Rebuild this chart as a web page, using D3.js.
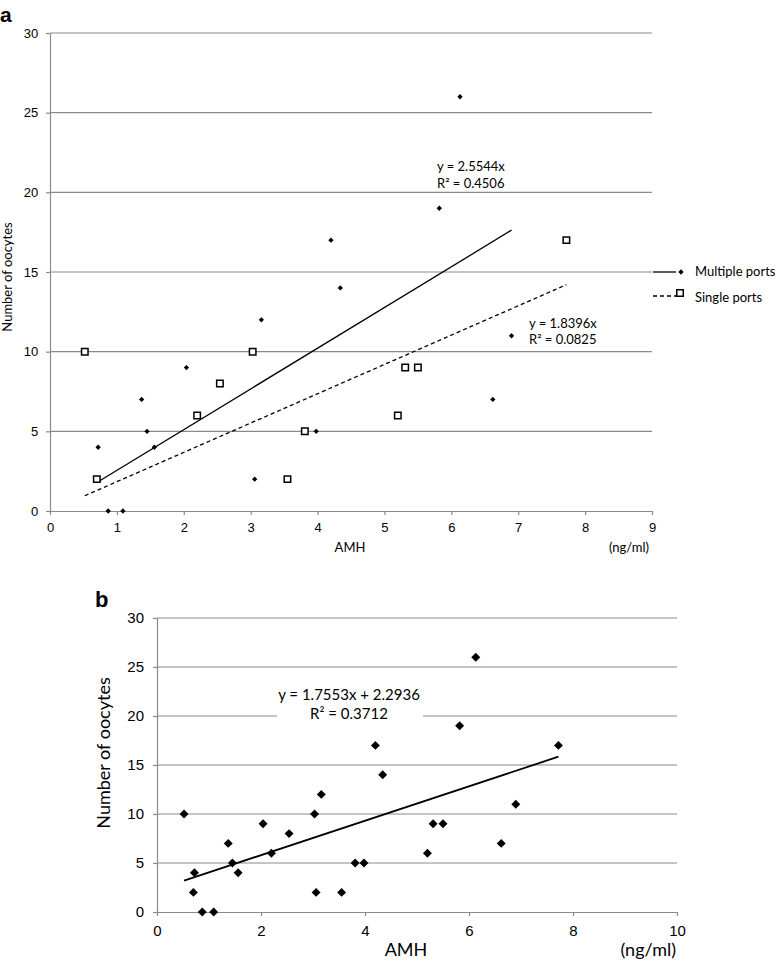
<!DOCTYPE html>
<html>
<head>
<meta charset="utf-8">
<script src="https://cdn.jsdelivr.net/npm/d3@7"></script>
<style>
body { margin: 0; background: #fff; }
svg { display: block; font-family: Lato, "Open Sans", sans-serif; }
.grid line { stroke: #8a8a8a; stroke-width: 1.2; }
.axis path, .axis line { stroke: #8a8a8a; stroke-width: 1.2; }
.axis text { fill: #000; }
</style>
</head>
<body>
<svg id="chart" width="777" height="960"></svg>
<script>
// data
const multiAMH      = [0.72, 0.87, 1.09, 1.37, 1.45, 1.56, 2.04, 3.06, 3.16, 3.98, 4.20, 4.34, 5.82, 6.13, 6.62, 6.90]
const multiOocytes  = [4, 0, 0, 7, 5, 4, 9, 2, 12, 5, 17, 14, 19, 26, 7, 11]
const singleAMH     = [0.52, 0.70, 2.20, 2.54, 3.03, 3.55, 3.81, 5.20, 5.31, 5.50, 7.72]
const singleOocytes = [10, 2, 6, 8, 10, 2, 5, 6, 9, 9, 17]

const seriesNames = ["Multiple ports", "Single ports"]
// trend lines: [slope, intercept]
const multiFit  = [2.5544, 0]
const singleFit = [1.8396, 0]
const allFit    = [1.7553, 2.2936]
const multiFitText  = ["y = 2.5544x", "R² = 0.4506"]
const singleFitText = ["y = 1.8396x", "R² = 0.0825"]
const allFitText    = ["y = 1.7553x + 2.2936", "R² = 0.3712"]

const yTicks  = [0, 5, 10, 15, 20, 25, 30]
const xTicksA = [0, 1, 2, 3, 4, 5, 6, 7, 8, 9]
const xTicksB = [0, 2, 4, 6, 8, 10]

let svg = d3.select("#chart")

function fitLine(fit, xs) {
    let ext = d3.extent(xs)
    return ext.map(x => [x, fit[0] * x + fit[1]])
}

function drawPanel(g, xs, ys, xTicks, fontSize, tickLen) {
    let grid = g.append("g").attr("class", "grid")
    grid.selectAll("line").data(yTicks.filter(d => d > 0)).enter().append("line")
        .attr("x1", xs.range()[0]).attr("x2", xs.range()[1])
        .attr("y1", d => ys(d)).attr("y2", d => ys(d))

    g.append("g").attr("class", "axis")
        .attr("transform", `translate(0,${ys(0)})`)
        .call(d3.axisBottom(xs).tickValues(xTicks).tickSize(tickLen).tickPadding(fontSize * 0.6).tickSizeOuter(0))
        .selectAll("text").style("font-size", fontSize + "px")
    g.append("g").attr("class", "axis")
        .attr("transform", `translate(${xs.range()[0]},0)`)
        .call(d3.axisLeft(ys).tickValues(yTicks).tickSize(tickLen).tickPadding(fontSize * 0.6).tickSizeOuter(0))
        .selectAll("text").style("font-size", fontSize + "px")
}

// ---------- panel a ----------
let xA = d3.scaleLinear().domain([0, 9]).range([50, 652])
let yA = d3.scaleLinear().domain([0, 30]).range([511, 33])
let gA = svg.append("g")
drawPanel(gA, xA, yA, xTicksA, 13, 4)

let line = d3.line()
gA.append("path")
    .attr("d", line(fitLine(multiFit, multiAMH).map(p => [xA(p[0]), yA(p[1])])))
    .attr("stroke", "#000").attr("stroke-width", 1.3).attr("fill", "none")
gA.append("path")
    .attr("d", line(fitLine(singleFit, singleAMH).map(p => [xA(p[0]), yA(p[1])])))
    .attr("stroke", "#000").attr("stroke-width", 1.3).attr("stroke-dasharray", "4,3").attr("fill", "none")

let smallDiamond = d3.symbol().type(d3.symbolSquare).size(14)
gA.selectAll(".multi").data(multiAMH).enter().append("path")
    .attr("class", "multi")
    .attr("d", smallDiamond)
    .attr("transform", (d, i) => `translate(${xA(d)},${yA(multiOocytes[i])}) rotate(45)`)
    .attr("fill", "#000")
let openSquare = d3.symbol().type(d3.symbolSquare).size(42)
gA.selectAll(".single").data(singleAMH).enter().append("path")
    .attr("class", "single")
    .attr("d", openSquare)
    .attr("transform", (d, i) => `translate(${xA(d)},${yA(singleOocytes[i])})`)
    .attr("fill", "#fff").attr("stroke", "#000").attr("stroke-width", 1.5)

// trend labels
gA.append("text").attr("x", 437).attr("y", 171).style("font-size", "13px").text(multiFitText[0])
gA.append("text").attr("x", 437).attr("y", 188).style("font-size", "13px").text(multiFitText[1])
gA.append("text").attr("x", 529).attr("y", 328).style("font-size", "13px").text(singleFitText[0])
gA.append("text").attr("x", 529).attr("y", 344).style("font-size", "13px").text(singleFitText[1])

// axis titles
gA.append("text").attr("x", 350).attr("y", 552).attr("text-anchor", "middle").style("font-size", "13px").text("AMH")
gA.append("text").attr("x", 649).attr("y", 552).attr("text-anchor", "end").style("font-size", "13px").text("(ng/ml)")
gA.append("text").attr("transform", "translate(12,277) rotate(-90)").attr("text-anchor", "middle")
    .style("font-size", "13px").text("Number of oocytes")
gA.append("text").attr("x", 0).attr("y", 22).style("font-family", "'Liberation Sans', Arial, sans-serif")
    .style("font-weight", "bold").style("font-size", "21px").text("a")

// legend
let lgA = gA.append("g")
seriesNames.forEach(function (name, i) {
    let ly = 272 + i * 24
    lgA.append("line").attr("x1", 653).attr("x2", 676).attr("y1", ly).attr("y2", ly)
        .attr("stroke", "#000").attr("stroke-width", 1.3)
        .attr("stroke-dasharray", i === 1 ? "4,3" : null)
    if (i === 0) {
        lgA.append("path").attr("d", smallDiamond).attr("transform", `translate(681,${ly}) rotate(45)`).attr("fill", "#000")
    } else {
        lgA.append("path").attr("d", openSquare).attr("transform", `translate(680,${ly - 3})`)
            .attr("fill", "#fff").attr("stroke", "#000").attr("stroke-width", 1.5)
    }
    lgA.append("text").attr("x", 695).attr("y", ly + 4 + (i === 1 ? 2 : 0)).style("font-size", "13px").text(name)
})

// ---------- panel b ----------
let allAMH = multiAMH.concat(singleAMH)
let allOocytes = multiOocytes.concat(singleOocytes)
let xB = d3.scaleLinear().domain([0, 10]).range([157, 677])
let yB = d3.scaleLinear().domain([0, 30]).range([912, 618])
let gB = svg.append("g")
drawPanel(gB, xB, yB, xTicksB, 15, 4)

gB.append("path")
    .attr("d", line(fitLine(allFit, allAMH).map(p => [xB(p[0]), yB(p[1])])))
    .attr("stroke", "#000").attr("stroke-width", 1.8).attr("fill", "none")

let bigDiamond = d3.symbol().type(d3.symbolSquare).size(40)
gB.selectAll(".all").data(allAMH).enter().append("path")
    .attr("class", "all")
    .attr("d", bigDiamond)
    .attr("transform", (d, i) => `translate(${xB(d)},${yB(allOocytes[i])}) rotate(45)`)
    .attr("fill", "#000")

gB.append("rect").attr("x", 277).attr("y", 684).attr("width", 146).attr("height", 38).attr("fill", "#fff")
gB.append("text").attr("x", 349).attr("y", 700).attr("text-anchor", "middle").style("font-size", "15px").text(allFitText[0])
gB.append("text").attr("x", 349).attr("y", 719).attr("text-anchor", "middle").style("font-size", "15px").text(allFitText[1])

gB.append("text").attr("x", 406).attr("y", 956).attr("text-anchor", "middle").style("font-size", "18px").text("AMH")
gB.append("text").attr("x", 676).attr("y", 956).attr("text-anchor", "end").style("font-size", "18px").text("(ng/ml)")
gB.append("text").attr("transform", "translate(110,753) rotate(-90)").attr("text-anchor", "middle")
    .style("font-size", "18px").text("Number of oocytes")
gB.append("text").attr("x", 95).attr("y", 607).style("font-family", "'Liberation Sans', Arial, sans-serif")
    .style("font-weight", "bold").style("font-size", "22px").text("b")
</script>
</body>
</html>
